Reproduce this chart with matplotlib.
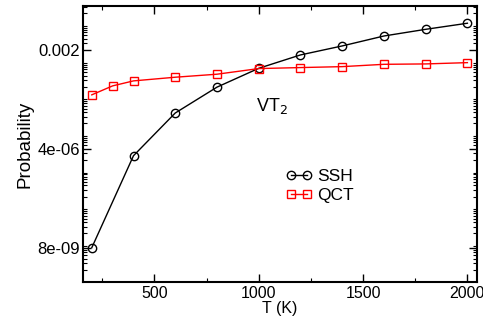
import matplotlib
matplotlib.use("Agg")
import matplotlib.pyplot as plt
from matplotlib.ticker import FixedLocator, LogLocator, NullFormatter, MultipleLocator

plt.rcParams['font.family'] = ['Liberation Sans', 'DejaVu Sans']

ssh_T = [200, 400, 600, 800, 1000, 1200, 1400, 1600, 1800, 2000]
ssh_P = [8.0e-9, 2.6e-6, 3.8e-5, 1.93e-4, 6.3e-4, 1.46e-3, 2.57e-3, 4.8e-3, 7.3e-3, 1.07e-2]
qct_T = [200, 300, 400, 600, 800, 1000, 1200, 1400, 1600, 1800, 2000]
qct_P = [1.19e-4, 2.09e-4, 2.86e-4, 3.6e-4, 4.35e-4, 6.2e-4, 6.6e-4, 7.0e-4, 8.1e-4, 8.3e-4, 9.0e-4]
y_ticks = [8e-9, 4e-6, 0.002]
y_ticklabels = ['8e-09', '4e-06', '0.002']

fig = plt.figure(figsize=(4.83, 3.23), dpi=100)
ax = fig.add_axes([83/483, 1-282/323, 394/483, 276/323])

ax.plot(ssh_T, ssh_P, color='black', lw=1.0, marker='o', ms=6, mfc='none', mec='black', mew=1.0, label='SSH')
ax.plot(qct_T, qct_P, color='red', lw=1.0, marker='s', ms=5.5, mfc='none', mec='red', mew=1.0, label='QCT')

ax.set_yscale('log')
ax.set_xlim(158, 2046)
ax.set_ylim(9.3e-10, 0.0316)
ax.yaxis.set_major_locator(FixedLocator(y_ticks))
ax.set_yticklabels(y_ticklabels)
ax.yaxis.set_minor_locator(LogLocator(base=10, subs=(2, 3, 4, 5, 6, 7, 8, 9), numticks=20))
ax.yaxis.set_minor_formatter(NullFormatter())
ax.xaxis.set_major_locator(FixedLocator([500, 1000, 1500, 2000]))
ax.xaxis.set_minor_locator(MultipleLocator(250))

ax.tick_params(which='both', direction='in', top=True, right=True, labelsize=12, pad=2)
ax.tick_params(axis='x', labelsize=11.5, pad=3)
ax.tick_params(which='major', length=6, width=1.0)
ax.tick_params(which='minor', length=3, width=0.8)
for s in ax.spines.values():
    s.set_linewidth(1.5)

ax.set_xlabel('T (K)', fontsize=11.5, labelpad=0)
ax.set_ylabel('Probability', fontsize=13.5, labelpad=3)

ax.text(0.44, 0.638, r'VT$_2$', transform=ax.transAxes, fontsize=13, va='center', ha='left')

ax.legend(loc='upper left', bbox_to_anchor=(0.515, 0.41), frameon=False, fontsize=12.5,
          numpoints=2, handlelength=1.5, handletextpad=0.3, labelspacing=0.2, borderpad=0,
          borderaxespad=0)

fig.savefig('out.png', dpi=100)
